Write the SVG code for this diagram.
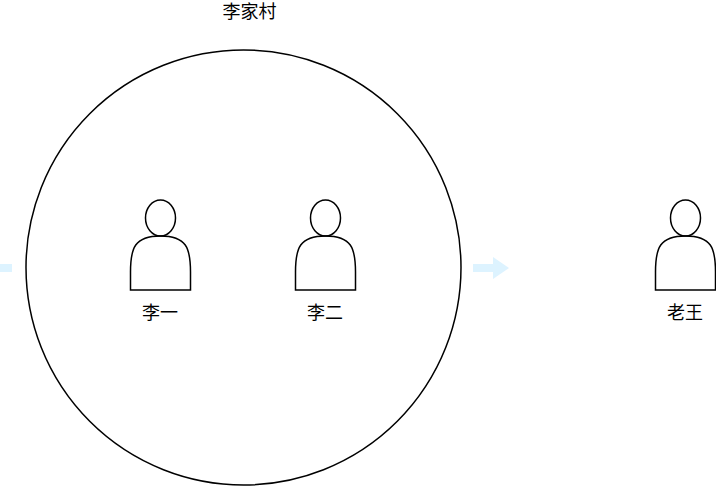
<svg xmlns="http://www.w3.org/2000/svg" width="716" height="488" viewBox="0 0 716 488">
<defs>
<style>
.l{fill:none;stroke:#000;stroke-width:1.5}
.t{font-family:"Noto Sans CJK SC","Liberation Sans",sans-serif;font-size:18px;fill:#000;text-anchor:middle}
.a{fill:#ddf3ff}
</style>
<g id="person"><ellipse class="l" cx="30" cy="18" rx="15" ry="18"/><path class="l" d="M0 90V72C0 48 4 36 30 36C56 36 60 48 60 72V90Z"/></g>
</defs>
<rect width="716" height="488" fill="#fff"/>
<g id="village"><circle class="l" cx="243.500" cy="267.500" r="217.500"/><text class="t" x="249.500" y="18">李家村</text></g>
<g id="li1"><use href="#person" x="130.500" y="200"/><text class="t" x="160" y="318.500">李一</text></g>
<g id="li2"><use href="#person" x="295.500" y="200"/><text class="t" x="325" y="318.500">李二</text></g>
<g id="laowang"><use href="#person" x="655.500" y="200"/><text class="t" x="685" y="318.500">老王</text></g>
<g id="connectors">
<path class="a" d="M0 264H12V272H0Z"/>
<path class="a" d="M473 264H493V257L509 268L493 279V272H473Z"/>
</g>
</svg>
